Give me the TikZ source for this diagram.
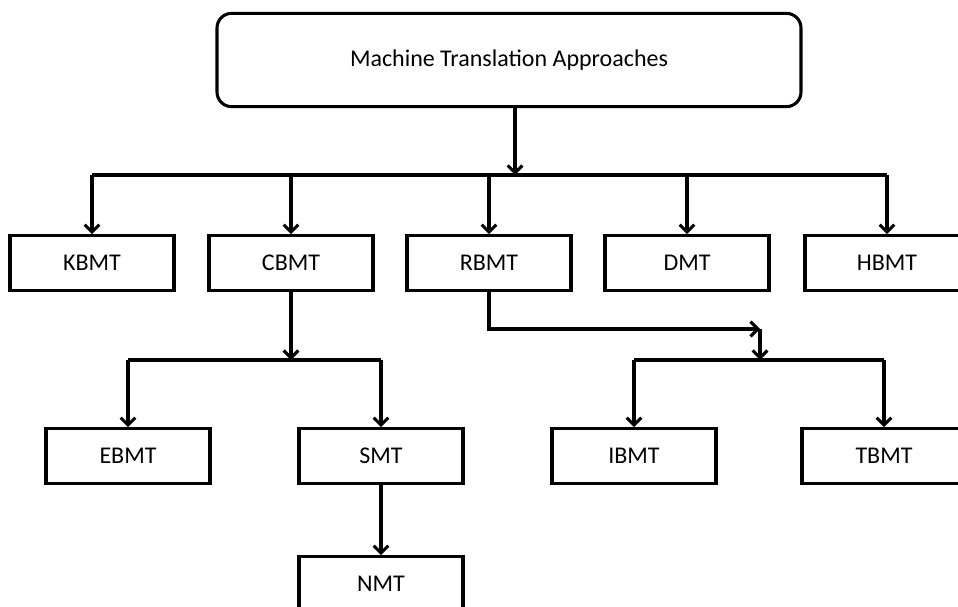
\documentclass[tikz,border=0pt]{standalone}
\usepackage{fontspec}
\setmainfont{Carlito}
\usetikzlibrary{arrows.meta,positioning}

\tikzset{
    mtbox/.style={draw, line width=2.3pt, minimum width=123pt, minimum height=41pt,
        inner sep=0pt, font=\fontsize{18}{21}\selectfont},
    topbox/.style={mtbox, rounded corners=11pt, minimum width=438pt, minimum height=70pt},
    link/.style={line width=2.3pt},
    arr/.style={link, -{Straight Barb[length=5.5pt,width=11pt,line width=2.3pt]}}
}

\begin{document}
\begin{tikzpicture}[x=0.75pt,y=-0.75pt]

    \useasboundingbox (0,0) rectangle (958,607);

    %boxes
    \node[topbox] (mta) at (509,60) {Machine Translation Approaches};
    \node[mtbox] (kbmt) at (92,263) {KBMT};
    \node[mtbox] (cbmt) at (291,263) {CBMT};
    \node[mtbox] (rbmt) at (489,263) {RBMT};
    \node[mtbox] (dmt) at (687,263) {DMT};
    \node[mtbox] (hbmt) at (887,263) {HBMT};
    \node[mtbox] (ebmt) at (128,456) {EBMT};
    \node[mtbox] (smt) at (381,456) {SMT};
    \node[mtbox] (ibmt) at (634,456) {IBMT};
    \node[mtbox] (tbmt) at (884,456) {TBMT};
    \node[mtbox] (nmt) at (381,584) {NMT};

    %bus points
    \coordinate (bus1) at (515,175);
    \coordinate (bus2) at (291,360);
    \coordinate (rbend) at (760,329);
    \coordinate (bus3) at (760,360);

    %first level
    \draw[arr] (mta.south -| bus1) -- (bus1);
    \draw[link] (kbmt.north |- bus1) -- (hbmt.north |- bus1);
    \foreach \n in {kbmt,cbmt,rbmt,dmt,hbmt}{
        \draw[arr] (\n.north |- bus1) -- (\n);
    }

    %cbmt
    \draw[arr] (cbmt) -- (bus2);
    \draw[link] (ebmt.north |- bus2) -- (smt.north |- bus2);
    \draw[arr] (ebmt.north |- bus2) -- (ebmt);
    \draw[arr] (smt.north |- bus2) -- (smt);
    \draw[arr] (smt) -- (nmt);

    %rbmt
    \draw[arr] (rbmt.south) |- (rbend);
    \draw[arr] (rbend) -- (bus3);
    \draw[link] (ibmt.north |- bus3) -- (tbmt.north |- bus3);
    \draw[arr] (ibmt.north |- bus3) -- (ibmt);
    \draw[arr] (tbmt.north |- bus3) -- (tbmt);

\end{tikzpicture}
\end{document}
